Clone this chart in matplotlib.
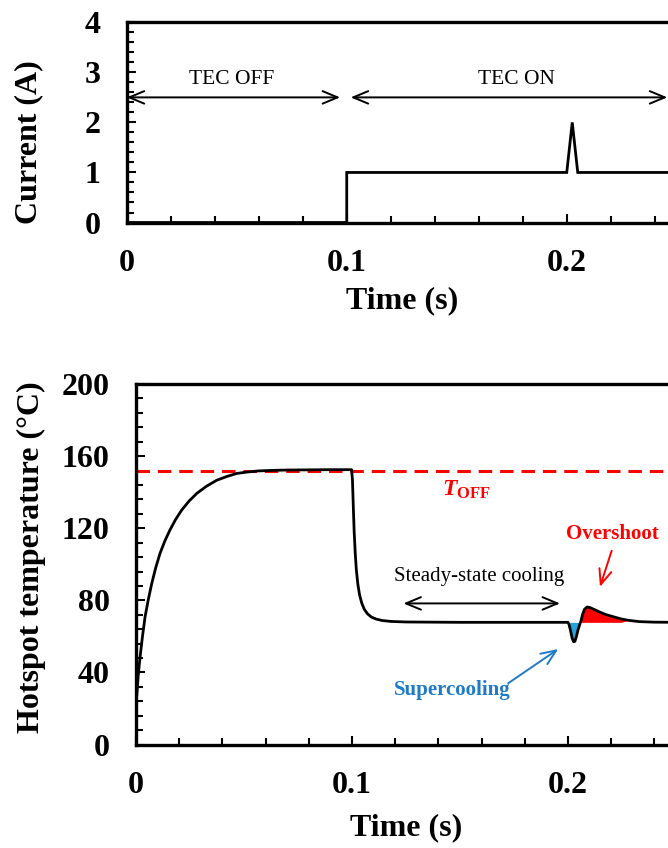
import matplotlib
matplotlib.use("Agg")
import matplotlib.pyplot as plt
from matplotlib.ticker import MultipleLocator
import numpy as np

plt.rcParams['font.family'] = ['Liberation Serif', 'DejaVu Serif']
plt.rcParams['mathtext.fontset'] = 'custom'
plt.rcParams['mathtext.it'] = 'Liberation Serif:italic:bold'
plt.rcParams['mathtext.bf'] = 'Liberation Serif:bold'
plt.rcParams['mathtext.rm'] = 'Liberation Serif:bold'

# TEC drive current (A) versus time (s)
current_time = [0.0, 0.1, 0.1, 0.2, 0.2025, 0.205, 0.25]
current_amps = [0.0, 0.0, 1.0, 1.0, 2.0, 1.0, 1.0]

# hotspot temperature (deg C) versus time (s)
temp_time = [0.0, 0.0004, 0.001, 0.0019, 0.003, 0.0042, 0.0057, 0.0073, 0.0091,
             0.0111, 0.0133, 0.0157, 0.0183, 0.0211, 0.0245, 0.0281, 0.0325, 0.0373,
             0.042, 0.0466, 0.0515, 0.0566, 0.063, 0.07, 0.08, 0.09, 0.0998,
             0.1002, 0.1006, 0.101, 0.1015, 0.102, 0.1027, 0.1035, 0.1045, 0.1057,
             0.1072, 0.109, 0.1112, 0.114, 0.118, 0.125, 0.15, 0.175, 0.2,
             0.2005, 0.2012, 0.2019, 0.2026, 0.2032, 0.2039, 0.2046, 0.2054, 0.206,
             0.2067, 0.2076, 0.2088, 0.2102, 0.212, 0.2145, 0.2175, 0.221, 0.2245,
             0.228, 0.233, 0.24, 0.25]
temp_vals = [22.0, 28.0, 38.0, 48.8, 60.0, 70.9, 80.5, 89.4, 98.0,
             106.0, 112.8, 119.0, 124.8, 130.0, 135.0, 139.3, 143.2, 146.6,
             148.7, 150.4, 151.2, 151.8, 152.1, 152.3, 152.4, 152.5, 152.5,
             147.0, 132.0, 118.0, 106.0, 97.0, 89.0, 83.0, 78.5, 75.0,
             72.5, 70.7, 69.6, 68.8, 68.3, 68.0, 67.8, 67.8, 67.8,
             66.5, 63.0, 59.0, 57.0, 57.3, 60.0, 63.5, 66.5, 68.5,
             72.0, 75.0, 76.3, 76.0, 75.0, 73.6, 72.1, 70.9, 69.7,
             68.9, 68.2, 67.9, 67.8]
t_off = 152.0
t_steady = 67.8

RED = '#ff0000'
BLUE_FILL = '#27a2dc'
BLUE_TEXT = '#1f7bc8'

fig = plt.figure(figsize=(6.68, 8.48), dpi=100)
ax1 = fig.add_axes([0.1897, 0.7376, 0.8234, 0.2361])
ax2 = fig.add_axes([0.2036, 0.1220, 0.8084, 0.4251])


def style_axes(ax, ymajor, yminor):
    for side in ['left', 'bottom', 'top', 'right']:
        ax.spines[side].set_linewidth(2.4)
    ax.xaxis.set_major_locator(MultipleLocator(0.1))
    ax.xaxis.set_minor_locator(MultipleLocator(0.02))
    ax.yaxis.set_major_locator(MultipleLocator(ymajor))
    ax.yaxis.set_minor_locator(MultipleLocator(yminor))
    ax.tick_params(which='both', direction='in', top=False, right=False,
                   width=1.5, pad=19, labelsize=23)
    ax.tick_params(which='major', length=6.5)
    ax.tick_params(which='minor', length=4.7)
    ax.xaxis.set_major_formatter(lambda v, p: '0' if v == 0 else f'{v:.1f}')
    for lab in ax.get_xticklabels() + ax.get_yticklabels():
        lab.set_fontweight('bold')


# top panel: current
ax1.plot(current_time, current_amps, color='black', lw=2.0, solid_joinstyle='miter')
ax1.set_xlim(0, 0.25)
ax1.set_ylim(0, 4)
style_axes(ax1, 1, 0.2)
ax1.set_xlabel('Time (s)', fontsize=23, fontweight='bold')
ax1.xaxis.set_label_coords(0.5, -0.39)
ax1.xaxis.label.set_va('center')
fig.text(28.3 / 668, 1 - 141.7 / 848, 'Current (A)', rotation=90, fontsize=23,
         fontweight='bold', ha='center', va='center')

arrow_kw = dict(arrowstyle='<->,head_length=0.6,head_width=0.25', lw=1.4,
                color='black', mutation_scale=18, shrinkA=0, shrinkB=0)
ax1.annotate('', xy=(0.097, 2.5), xytext=(0.0, 2.5), arrowprops=arrow_kw)
ax1.annotate('', xy=(0.2457, 2.5), xytext=(0.1018, 2.5), arrowprops=arrow_kw)
ax1.text(0.0477, 2.86, 'TEC OFF', fontsize=15.5, ha='center', va='center')
ax1.text(0.177, 2.86, 'TEC ON', fontsize=15.5, ha='center', va='center')

# bottom panel: hotspot temperature
t = np.array(temp_time)
temp = np.array(temp_vals)
ax2.axhline(t_off, color=RED, lw=2.2, linestyle=(0, (4.4, 2.6)))
ax2.fill_between(t, temp, t_steady, where=(t >= 0.2) & (t <= 0.206),
                 color=BLUE_FILL, lw=0, interpolate=True)
ax2.fill_between(t, temp, t_steady, where=(t >= 0.2054) & (t <= 0.2245),
                 color=RED, lw=0, interpolate=True)
ax2.plot(t, temp, color='black', lw=2.0)
ax2.set_xlim(0, 0.25)
ax2.set_ylim(0, 200)
style_axes(ax2, 40, 8)
ax2.set_xlabel('Time (s)', fontsize=23, fontweight='bold')
ax2.xaxis.set_label_coords(0.5, -0.232)
ax2.xaxis.label.set_va('center')
fig.text(31.7 / 668, 1 - 557 / 848, 'Hotspot temperature (\u00b0C)', rotation=90,
         fontsize=23, fontweight='bold', ha='center', va='center')

ax2.text(0.1531, 138.3, r'$\mathit{T}_{\mathbf{OFF}}$', color=RED, fontsize=17,
         ha='center', va='baseline')
ax2.text(0.1587, 93, 'Steady-state cooling', fontsize=15, ha='center', va='center')
ax2.annotate('', xy=(0.1963, 78.3), xytext=(0.1238, 78.3), arrowprops=arrow_kw)

ax2.text(0.2207, 117, 'Overshoot', color=RED, fontsize=15, fontweight='bold',
         ha='center', va='center')
ax2.annotate('', xy=(0.2148, 87.5), xytext=(0.2202, 107.5),
             arrowprops=dict(arrowstyle='->,head_length=0.6,head_width=0.25', lw=1.4,
                             color=RED, mutation_scale=18, shrinkA=0, shrinkB=0))

ax2.text(0.1463, 30, 'Supercooling', color=BLUE_TEXT, fontsize=15, fontweight='bold',
         ha='center', va='center')
ax2.annotate('', xy=(0.1955, 53), xytext=(0.1723, 34),
             arrowprops=dict(arrowstyle='->,head_length=0.6,head_width=0.25', lw=1.4,
                             color=BLUE_TEXT, mutation_scale=18, shrinkA=0, shrinkB=0))

fig.savefig('out.png', dpi=100)
